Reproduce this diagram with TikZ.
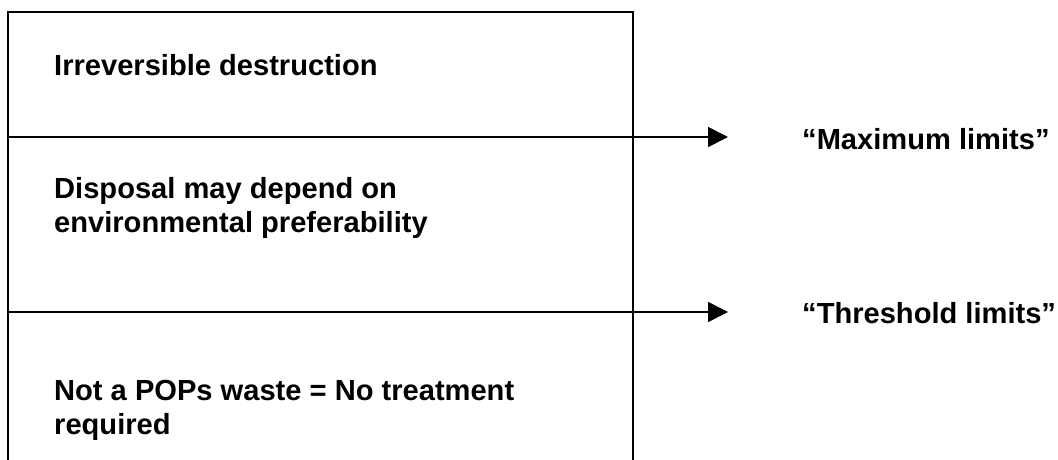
\documentclass[tikz,border=0pt]{standalone}
\usepackage{fontspec}
\setmainfont{Liberation Sans}
\usetikzlibrary{arrows.meta}

\tikzset{
  boxline/.style={line width=1.7pt},
  limitarrow/.style={line width=1.7pt,-{Triangle[length=20pt,width=20pt]}},
  bandtext/.style={anchor=base west,inner sep=0pt,align=left,font=\bfseries\fontsize{29.1}{33.8}\selectfont},
}

\begin{document}
\begin{tikzpicture}[x=1pt,y=1pt,yscale=-1,xscale=1]
\useasboundingbox (0,0) rectangle (1058,460);

%Coordinates of the box
\coordinate (topL) at (8,12);
\coordinate (topR) at (633,12);
\coordinate (botL) at (8,461);
\coordinate (botR) at (633,461);
\coordinate (maxL) at (8,137);
\coordinate (maxTip) at (728,137);
\coordinate (thrL) at (8,312);
\coordinate (thrTip) at (728,312);

%Open box
\draw [boxline]   (botL) -- (topL) -- (topR) -- (botR) ;
%Arrow to maximum limits
\draw [limitarrow]   (maxL) -- (maxTip) ;
%Arrow to threshold limits
\draw [limitarrow]   (thrL) -- (thrTip) ;

% Text Node
\node (irrev) at (54,75) [bandtext] {Irreversible destruction};
% Text Node (base is the last line)
\node (disposal) at (54,232) [bandtext] {Disposal may depend on\\environmental preferability};
% Text Node (base is the last line)
\node (notpops) at (54,434) [bandtext] {Not a POPs waste = No treatment\\required};
% Text Node
\node (maxlim) at (802,149) [bandtext] {“Maximum limits”};
% Text Node
\node (thrlim) at (802,323) [bandtext] {“Threshold limits”};

\end{tikzpicture}
\end{document}
